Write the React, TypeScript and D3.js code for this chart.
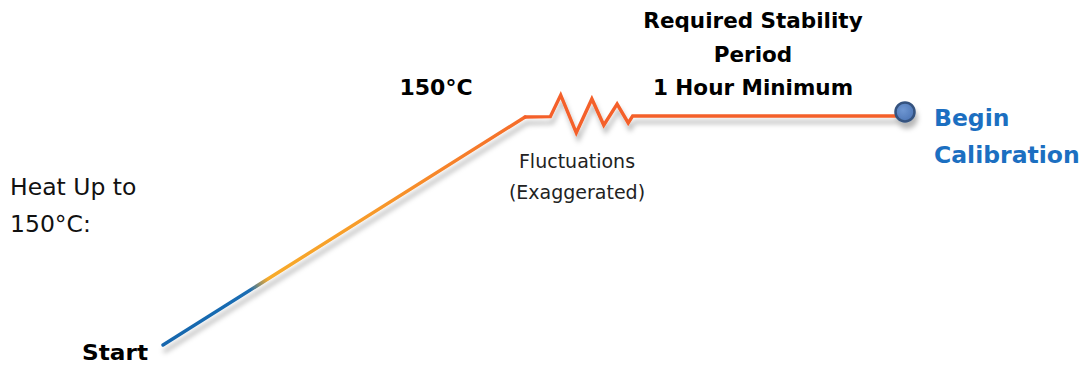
import React from "react";
import * as d3 from "d3";

// Profile data: time (arbitrary units) and temperature (°C, fluctuations exaggerated)
const times = [0, 488, 522, 536, 557, 578, 594, 612, 627, 633, 1000];
const temps = [20, 150, 150.2, 162.5, 141, 160.3, 145.4, 157.4, 146.6, 150.6, 150.6];
const rampEndIndex = 1;

const heatLabel = ["Heat Up to", "150°C:"];
const setpointLabel = "150°C";
const stabilityLabel = ["Required Stability", "Period", "1 Hour Minimum"];
const fluctLabel = ["Fluctuations", "(Exaggerated)"];
const endLabel = ["Begin", "Calibration"];
const startLabel = "Start";

const W = 1083;
const H = 366;
const FONT = "'DejaVu Sans', Verdana, sans-serif";

export default function App() {
  const x = d3.scaleLinear().domain([0, 1000]).range([163, 905]);
  const y = d3.scaleLinear().domain([20, 150]).range([345, 117]);

  const pts: [number, number][] = times.map((t, i) => [x(t), y(temps[i])]);
  const line = d3.line<[number, number]>().x((d) => d[0]).y((d) => d[1]);
  const rampPath = line(pts.slice(0, rampEndIndex + 1)) || "";
  const restPath = line(pts.slice(rampEndIndex)) || "";
  const [sx, sy] = pts[0];
  const [rx, ry] = pts[rampEndIndex];
  const [ex, ey] = pts[pts.length - 1];

  return (
    <svg
      width={W}
      height={H}
      style={{ position: "absolute", left: 0, top: 0, background: "#fff" }}
      fontFamily={FONT}
    >
      <defs>
        <linearGradient id="ramp" gradientUnits="userSpaceOnUse" x1={sx} y1={sy} x2={rx} y2={ry}>
          <stop offset="0" stopColor="#1766ad" />
          <stop offset="0.24" stopColor="#1a6db3" />
          <stop offset="0.29" stopColor="#f7ab2a" />
          <stop offset="0.6" stopColor="#f7982c" />
          <stop offset="1" stopColor="#f56b2c" />
        </linearGradient>
        <filter id="shadow" x="-10%" y="-30%" width="120%" height="180%">
          <feDropShadow dx="2" dy="6" stdDeviation="2.5" floodColor="#000" floodOpacity="0.28" />
        </filter>
        <radialGradient id="dot" cx="0.4" cy="0.4" r="0.7">
          <stop offset="0" stopColor="#6f97d2" />
          <stop offset="1" stopColor="#4a73b3" />
        </radialGradient>
      </defs>

      <g filter="url(#shadow)">
        <path d={rampPath} fill="none" stroke="url(#ramp)" strokeWidth={3.4} strokeLinecap="round" />
        <path
          d={restPath}
          fill="none"
          stroke="#f4602a"
          strokeWidth={3.4}
          strokeLinejoin="miter"
          strokeLinecap="round"
        />
        <circle cx={ex} cy={ey - 4} r={9.5} fill="url(#dot)" stroke="#34527f" strokeWidth={2.5} />
      </g>

      <text x={82} y={360} fontSize={22} fontWeight="bold" fill="#000" textLength={66} lengthAdjust="spacingAndGlyphs">
        {startLabel}
      </text>

      <text fontSize={23.5} fill="#111">
        {heatLabel.map((s, i) => (
          <tspan key={i} x={10} y={195 + i * 37}>
            {s}
          </tspan>
        ))}
      </text>

      <text x={436} y={95} fontSize={22} fontWeight="bold" fill="#000" textAnchor="middle">
        {setpointLabel}
      </text>

      <text fontSize={21.5} fontWeight="bold" fill="#000" textAnchor="middle">
        {stabilityLabel.map((s, i) => (
          <tspan key={i} x={753} y={28 + i * 33.5}>
            {s}
          </tspan>
        ))}
      </text>

      <text fontSize={19} fill="#222" textAnchor="middle">
        {fluctLabel.map((s, i) => (
          <tspan key={i} x={577} y={168 + i * 31}>
            {s}
          </tspan>
        ))}
      </text>

      <text fontSize={23.5} fontWeight="bold" fill="#1c6fc1">
        {endLabel.map((s, i) => (
          <tspan key={i} x={934} y={126 + i * 37}>
            {s}
          </tspan>
        ))}
      </text>
    </svg>
  );
}
